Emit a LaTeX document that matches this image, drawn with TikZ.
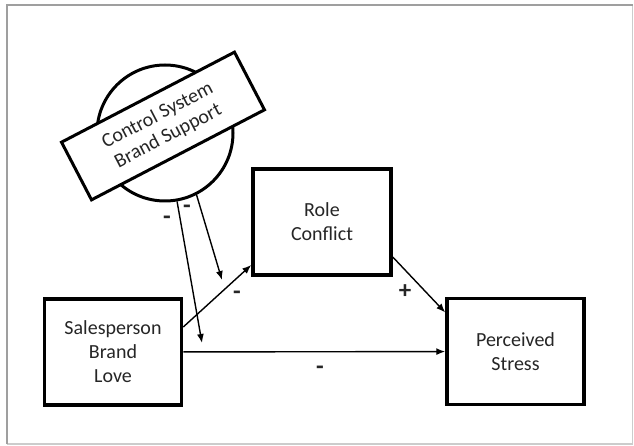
\documentclass[tikz,border=0pt]{standalone}
\usepackage{fontspec}
\setmainfont{Carlito}
\usetikzlibrary{arrows.meta}

\tikzset{
	box/.style={draw=black, line width=3.5pt, fill=white, minimum width=137pt, minimum height=106pt, inner sep=0pt, align=center, text=black!85, font=\fontsize{20}{24}\selectfont},
	link/.style={line width=1.4pt, -{Latex[length=9pt,width=7pt]}},
	sign/.style={inner sep=0pt, text=black!85, font=\fontsize{25}{28}\selectfont\bfseries}
}

\begin{document}
\begin{tikzpicture}[x=1pt, y=-1pt]
			%%%%% START %%%%%
			\useasboundingbox (0, 0) rectangle (634, 446);
			
			% frame
			\draw[gray!40, line width=1.2pt] (7, 444) -- (632.5, 444) -- (632.5, 5);
			\draw[gray!75, line width=2.5pt] (7, 444) -- (7, 5) -- (632.5, 5);
			
			% moderator
			\node[draw=black, line width=3pt, circle, minimum size=136pt, inner sep=0pt] (ctrl) at (165, 133) {};
			\node[draw=black, line width=3pt, fill=white, rotate=27.5, minimum width=195pt, minimum height=65pt, inner sep=0pt, align=center, text=black!85, font=\fontsize{20}{23}\selectfont] (ctrlbox) at (163, 126) {Control System\\Brand Support};
			
			% constructs
			\node[box] (love) at (113, 352) {Salesperson\\Brand\\Love};
			\node[box, minimum width=138pt] (role) at (322, 222) {Role\\Conflict};
			\node[box] (stress) at (515.5, 351.5) {Perceived\\Stress};
			
			\coordinate (tipA) at (202, 343);
			\coordinate (tipB) at (222, 280);
			
			% paths
			\draw[link] (love) -- (stress);
			\draw[link] ([yshift=25pt]love.east) -- ([yshift=-43pt]role.west);
			\draw[link] ([yshift=-35pt]role.east) -- ([yshift=39pt]stress.west);
			\draw[link] (ctrl.-80) -- (tipA);
			\draw[link] (ctrl.-63) -- (tipB);
			
			% signs
			\node[sign] (sA) at (167, 220) {-};
			\node[sign] (sB) at (187, 209) {-};
			\node[sign] (sC) at (237, 295) {-};
			\node[sign] (sD) at (405, 292) {+};
			\node[sign] (sE) at (320, 370) {-};
			%%%%% END %%%%%
\end{tikzpicture}
\end{document}
